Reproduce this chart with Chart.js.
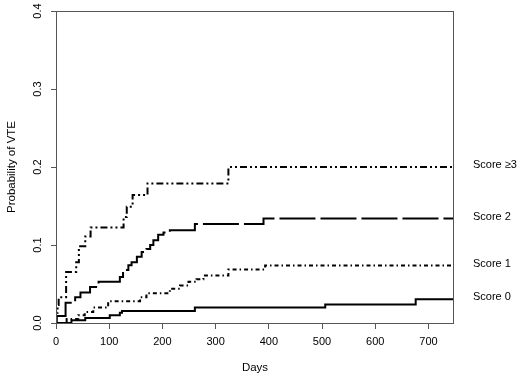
<!DOCTYPE html>
<html>
<head>
<meta charset="utf-8">
<script src="https://cdn.jsdelivr.net/npm/chart.js@4.4.1/dist/chart.umd.min.js"></script>
<style>
  body { margin: 0; background: #fff; }
  #wrap { width: 520px; height: 379px; }
</style>
</head>
<body>
<div id="wrap"><canvas id="myChart" width="520" height="379"></canvas></div>
<script>
// step curves: day of each jump and the new probability
const days0 = [0, 29, 55, 101, 120, 124, 261, 506, 676, 748];
const prob0 = [0, 0.0035, 0.0064, 0.0099, 0.013, 0.0154, 0.0198, 0.0236, 0.0304, 0.0304];

const days1 = [0, 20, 42, 54, 70, 98, 158, 170, 214, 233, 249, 264, 277, 324, 393, 748];
const prob1 = [0, 0.005, 0.010, 0.014, 0.0198, 0.028, 0.033, 0.038, 0.044, 0.048, 0.053, 0.056, 0.061, 0.0685, 0.0737, 0.0737];

const days2 = [0, 1, 18, 36, 46, 64, 80, 120, 126, 136, 142, 152, 161, 170, 177, 183, 192, 202, 214, 261, 390, 748];
const prob2 = [0, 0.009, 0.026, 0.033, 0.039, 0.046, 0.053, 0.059, 0.068, 0.074, 0.078, 0.085, 0.091, 0.095, 0.100, 0.106, 0.113, 0.116, 0.119, 0.127, 0.134, 0.134];

const days3 = [0, 1, 3, 5, 19, 38, 43, 55, 65, 127, 133, 144, 172, 324, 748];
const prob3 = [0, 0.013, 0.023, 0.033, 0.0655, 0.078, 0.0985, 0.111, 0.1225, 0.136, 0.149, 0.164, 0.179, 0.200, 0.200];

const names = ['Score 0', 'Score 1', 'Score 2', 'Score \u22653'];

const xMax = 748;
const yMax = 0.4;

Chart.defaults.font.family = '"Liberation Sans", Arial, Helvetica, sans-serif';
Chart.defaults.font.size = 11;
Chart.defaults.color = '#000';

function pts(days, prob) {
    return days.map((d, i) => ({ x: d, y: prob[i] }));
}

// box round the plot, rotated y labels (R style) and curve names at the right
const rStyle = {
    id: 'rStyle',
    afterDraw(chart) {
        const { ctx, chartArea, scales } = chart;
        ctx.save();
        ctx.strokeStyle = '#555';
        ctx.lineWidth = 1;
        ctx.strokeRect(chartArea.left + 0.5, chartArea.top + 0.5,
            chartArea.right - chartArea.left - 1, chartArea.bottom - chartArea.top);

        ctx.fillStyle = '#000';
        ctx.font = '11px "Liberation Sans", Arial, sans-serif';
        ctx.textAlign = 'center';
        ctx.textBaseline = 'middle';
        scales.y.ticks.forEach(t => {
            const py = scales.y.getPixelForValue(t.value);
            ctx.save();
            ctx.translate(chartArea.left - 18, py);
            ctx.rotate(-Math.PI / 2);
            ctx.fillText(t.value.toFixed(1), 0, 0);
            ctx.restore();
        });

        ctx.textAlign = 'left';
        chart.data.datasets.forEach(ds => {
            const last = ds.data[ds.data.length - 1];
            ctx.fillText(ds.label, chartArea.right + 19, scales.y.getPixelForValue(last.y) - 2);
        });
        ctx.restore();
    }
};

const ctx = document.getElementById('myChart').getContext('2d');
const myChart = new Chart(ctx, {
    type: 'line',
    data: {
        datasets: [
            {
                label: names[0],
                data: pts(days0, prob0),
                borderColor: '#000',
                borderWidth: 2,
                stepped: 'before'
            },
            {
                label: names[1],
                data: pts(days1, prob1),
                borderColor: '#000',
                borderWidth: 2,
                borderDash: [4, 3, 1.5, 3],
                stepped: 'before'
            },
            {
                label: names[2],
                data: pts(days2, prob2),
                borderColor: '#000',
                borderWidth: 2,
                borderDash: [36, 5],
                stepped: 'before'
            },
            {
                label: names[3],
                data: pts(days3, prob3),
                borderColor: '#000',
                borderWidth: 2,
                borderDash: [7, 3, 2, 3, 2, 3],
                stepped: 'before'
            }
        ]
    },
    options: {
        responsive: false,
        animation: false,
        devicePixelRatio: 1,
        layout: { padding: { left: 0, right: 66, top: 11, bottom: 0 } },
        elements: { point: { radius: 0 } },
        plugins: {
            legend: { display: false },
            tooltip: { enabled: false }
        },
        scales: {
            x: {
                type: 'linear',
                min: 0,
                max: xMax,
                border: { display: false },
                grid: { drawOnChartArea: false, drawTicks: true, tickLength: 6, color: '#555' },
                ticks: { stepSize: 100, includeBounds: false, padding: 6, color: '#000' },
                title: { display: true, text: 'Days', font: { size: 11.5 }, padding: { bottom: 4 } },
                afterFit: (scale) => { scale.height = 56; }
            },
            y: {
                type: 'linear',
                min: 0,
                max: yMax,
                border: { display: false },
                grid: { drawOnChartArea: false, drawTicks: true, tickLength: 5, color: '#555' },
                ticks: { stepSize: 0.1, color: 'rgba(0,0,0,0)' },
                title: { display: true, text: 'Probability of VTE', font: { size: 11.5 }, padding: { top: 5 } },
                afterFit: (scale) => { scale.width = 56; }
            }
        }
    },
    plugins: [rStyle]
});
</script>
</body>
</html>
